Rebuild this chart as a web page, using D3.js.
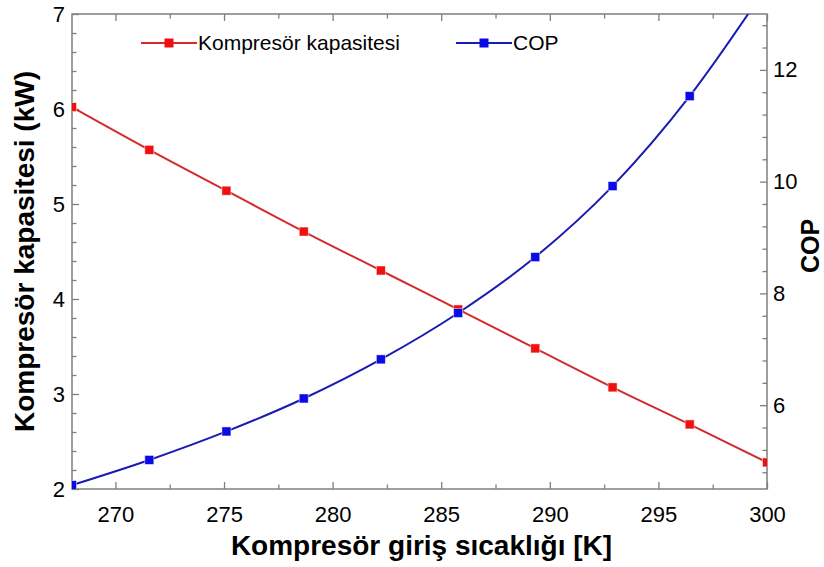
<!DOCTYPE html>
<html><head><meta charset="utf-8">
<script src="https://cdn.jsdelivr.net/npm/d3@7"></script>
<style>body{margin:0;background:#fff}svg{display:block}</style>
</head><body>
<svg id="c" width="824" height="567"></svg>
<script>
const temps = [268, 271.56, 275.11, 278.67, 282.22, 285.78, 289.33, 292.89, 296.44, 300];
const capacity = [6.02, 5.57, 5.14, 4.71, 4.30, 3.89, 3.48, 3.07, 2.68, 2.28];
const cop = [4.57, 5.02, 5.53, 6.12, 6.82, 7.65, 8.65, 9.92, 11.53, 13.5];
const xTicks = [270, 275, 280, 285, 290, 295, 300];
const yLeftTicks = [2, 3, 4, 5, 6, 7];
const yRightTicks = [6, 8, 10, 12];
const seriesNames = ["Kompresör kapasitesi", "COP"];

const svg = d3.select("#c");
const L = 72, R = 767, T = 14, B = 489;
const x = d3.scaleLinear().domain([268, 300]).range([L, R]);
const yL = d3.scaleLinear().domain([2, 7]).range([B, T]);
const yR = d3.scaleLinear().domain([4.5, 13]).range([B, T]);
const axisColor = "#7f7f7f";
const font = "Liberation Sans, Arial, sans-serif";

svg.append("defs").append("clipPath").attr("id", "clip")
  .append("rect").attr("x", L).attr("y", T).attr("width", R - L).attr("height", B - T);

// minor ticks
const xMinor = d3.range(267.5, 300.01, 2.5).filter(v => v >= 268 && !xTicks.includes(v));
const yLMinor = d3.range(2, 7.001, 0.2).map(v => +v.toFixed(1)).filter(v => !yLeftTicks.includes(v));
const yRMinor = d3.range(4.8, 13.001, 0.4).map(v => +v.toFixed(1)).filter(v => !yRightTicks.includes(v));

function styleAxis(g) {
  g.select(".domain").remove();
  g.selectAll(".tick line").attr("stroke", axisColor).attr("stroke-width", 1.3);
  g.selectAll(".tick text").attr("font-family", font).attr("font-size", 22).attr("fill", "#000");
}
// bottom
svg.append("g").attr("transform", `translate(0,${B})`)
  .call(d3.axisBottom(x).tickValues(xTicks).tickSize(-7).tickPadding(17).tickFormat(d3.format("d")))
  .call(styleAxis);
svg.append("g").attr("transform", `translate(0,${B})`)
  .call(d3.axisBottom(x).tickValues(xMinor).tickSize(-4.5).tickFormat(""))
  .call(styleAxis);
// top
svg.append("g").attr("transform", `translate(0,${T})`)
  .call(d3.axisTop(x).tickValues(xTicks).tickSize(-7).tickFormat(""))
  .call(styleAxis);
svg.append("g").attr("transform", `translate(0,${T})`)
  .call(d3.axisTop(x).tickValues(xMinor).tickSize(-4.5).tickFormat(""))
  .call(styleAxis);
// left
svg.append("g").attr("transform", `translate(${L},0)`)
  .call(d3.axisLeft(yL).tickValues(yLeftTicks).tickSize(-7).tickPadding(7).tickFormat(d3.format("d")))
  .call(styleAxis);
svg.append("g").attr("transform", `translate(${L},0)`)
  .call(d3.axisLeft(yL).tickValues(yLMinor).tickSize(-4.5).tickFormat(""))
  .call(styleAxis);
// right
svg.append("g").attr("transform", `translate(${R},0)`)
  .call(d3.axisRight(yR).tickValues(yRightTicks).tickSize(-7).tickPadding(6).tickFormat(d3.format("d")))
  .call(styleAxis);
svg.append("g").attr("transform", `translate(${R},0)`)
  .call(d3.axisRight(yR).tickValues(yRMinor).tickSize(-4.5).tickFormat(""))
  .call(styleAxis);

// frame
svg.append("rect").attr("x", L).attr("y", T).attr("width", R - L).attr("height", B - T)
  .attr("fill", "none").attr("stroke", axisColor).attr("stroke-width", 1.5);

const series = [
  {name: seriesNames[0], vals: capacity, y: yL, line: "#d42a2a", mark: "#f01010"},
  {name: seriesNames[1], vals: cop, y: yR, line: "#1a1ab4", mark: "#0a0ae6"}
];
const plot = svg.append("g").attr("clip-path", "url(#clip)");
series.forEach(s => {
  const data = temps.map((t, i) => [t, s.vals[i]]);
  plot.append("path").datum(data)
    .attr("d", d3.line().x(d => x(d[0])).y(d => s.y(d[1])).curve(d3.curveMonotoneX))
    .attr("fill", "none").attr("stroke", s.line).attr("stroke-width", 2);
});
series.forEach(s => {
  const data = temps.map((t, i) => [t, s.vals[i]]);
  plot.selectAll(null).data(data).enter().append("rect")
    .attr("x", d => x(d[0]) - 4.5).attr("y", d => s.y(d[1]) - 4.5)
    .attr("width", 9).attr("height", 9)
    .attr("fill", s.mark).attr("stroke", "#fff").attr("stroke-opacity", 0.6).attr("stroke-width", 0.8);
});

// legend
const legX = [141, 456], legY = 43;
series.forEach((s, i) => {
  const g = svg.append("g");
  g.append("line").attr("x1", legX[i]).attr("x2", legX[i] + 56).attr("y1", legY).attr("y2", legY)
    .attr("stroke", s.line).attr("stroke-width", 2);
  g.append("rect").attr("x", legX[i] + 28 - 4.5).attr("y", legY - 4.5).attr("width", 9).attr("height", 9)
    .attr("fill", s.mark);
  g.append("text").attr("x", legX[i] + 57).attr("y", legY).attr("dy", "0.35em")
    .attr("font-family", font).attr("font-size", 21).attr("fill", "#000").text(s.name);
});

// axis titles
svg.append("text").attr("x", (L + R) / 2 + 2).attr("y", 555).attr("text-anchor", "middle")
  .attr("font-family", font).attr("font-weight", "bold").attr("font-size", 28)
  .text("Kompresör giriş sıcaklığı [K]");
svg.append("text").attr("transform", `translate(34,${(T + B) / 2}) rotate(-90)`).attr("text-anchor", "middle")
  .attr("font-family", font).attr("font-weight", "bold").attr("font-size", 28)
  .text("Kompresör kapasitesi (kW)");
svg.append("text").attr("transform", `translate(819,246) rotate(-90)`).attr("text-anchor", "middle")
  .attr("font-family", font).attr("font-weight", "bold").attr("font-size", 25)
  .text("COP");
</script>
</body></html>
